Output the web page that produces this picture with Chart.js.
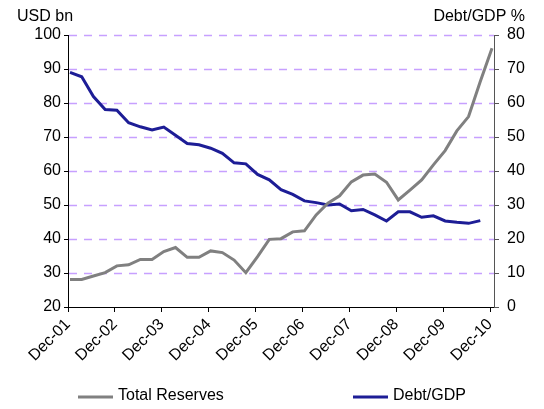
<!DOCTYPE html>
<html><head><meta charset="utf-8">
<script src="https://cdn.jsdelivr.net/npm/chart.js@4/dist/chart.umd.min.js"></script>
<style>html,body{margin:0;padding:0;background:#fff}#wrap{width:544px;height:409px}</style>
</head><body><div id="wrap"><canvas id="c" width="544" height="409"></canvas></div>
<script>
// Quarterly observations, Dec-01 .. Dec-10
const quarters = ["Dec-01","Mar-02","Jun-02","Sep-02","Dec-02","Mar-03","Jun-03","Sep-03","Dec-03",
  "Mar-04","Jun-04","Sep-04","Dec-04","Mar-05","Jun-05","Sep-05","Dec-05","Mar-06","Jun-06","Sep-06",
  "Dec-06","Mar-07","Jun-07","Sep-07","Dec-07","Mar-08","Jun-08","Sep-08","Dec-08","Mar-09","Jun-09",
  "Sep-09","Dec-09","Mar-10","Jun-10","Sep-10","Dec-10"];
const yearTicks = ["Dec-01","Dec-02","Dec-03","Dec-04","Dec-05","Dec-06","Dec-07","Dec-08","Dec-09","Dec-10"];
// USD bn (left axis)
const totalReserves = [28.1,28.1,29.1,30.1,32.1,32.4,34.0,34.0,36.3,37.5,34.6,34.6,36.5,36.0,33.8,30.1,
  34.8,39.9,40.1,42.1,42.4,47.1,50.5,52.7,56.8,58.8,59.1,56.7,51.5,54.4,57.4,61.8,66.0,71.8,76.0,86.3,96.1];
// Debt/GDP % (right axis), Dec-01 .. Sep-10
const debtToGDP = [69.0,67.7,61.9,58.1,57.9,54.2,53.0,52.1,52.9,50.5,48.1,47.7,46.7,45.2,42.4,42.1,
  39.0,37.4,34.5,33.1,31.2,30.7,30.0,30.3,28.3,28.7,27.1,25.3,28.0,28.0,26.4,26.8,25.3,24.9,24.6,25.4];
const seriesNames = ["Total Reserves","Debt/GDP"];
const axisTitles = ["USD bn","Debt/GDP %"];

const FONT = "'Liberation Sans', Arial, sans-serif";
const GRID = '#c7a0ff';
const toPts = arr => arr.map((v,i)=>({x:i+0.17, y:v}));

// dashed horizontal gridlines at the left axis' own tick values
const gridPlugin = {
  id:'dashGrid',
  beforeDatasetsDraw(chart){
    const {ctx, chartArea, scales} = chart;
    const ys = scales.y;
    ctx.save();
    ctx.strokeStyle = GRID;
    ctx.lineWidth = 1.5;
    ctx.setLineDash([8,7]);
    ys.ticks.forEach(t=>{
      if (t.value <= ys.min) return;
      const py = Math.round(ys.getPixelForValue(t.value)) + 0.5;
      ctx.beginPath(); ctx.moveTo(chartArea.left+1, py); ctx.lineTo(chartArea.right, py); ctx.stroke();
    });
    ctx.restore();
  }
};

const titlesLegendPlugin = {
  id:'titlesLegend',
  afterDraw(chart){
    const ctx = chart.ctx;
    ctx.save();
    ctx.font = '16px ' + FONT;
    ctx.fillStyle = '#000';
    ctx.textBaseline = 'alphabetic';
    ctx.textAlign = 'left';
    ctx.fillText(axisTitles[0], 17, 21);
    ctx.textAlign = 'right';
    ctx.fillText(axisTitles[1], 525, 21);
    const starts = [78, 353];
    chart.data.datasets.forEach((ds,i)=>{
      const x = starts[i], y = 397;
      ctx.strokeStyle = ds.borderColor;
      ctx.lineWidth = 3;
      ctx.beginPath(); ctx.moveTo(x, y); ctx.lineTo(x+35, y); ctx.stroke();
      ctx.fillStyle = '#000';
      ctx.textAlign = 'left';
      ctx.textBaseline = 'middle';
      ctx.fillText(ds.label, x+40, y-1);
    });
    ctx.restore();
  }
};

new Chart(document.getElementById('c'), {
  type:'line',
  data:{
    datasets:[
      {label:seriesNames[0], data:toPts(totalReserves), yAxisID:'y', borderColor:'#808080', backgroundColor:'#808080',
       borderWidth:3, pointRadius:0, tension:0},
      {label:seriesNames[1], data:toPts(debtToGDP), yAxisID:'y2', borderColor:'#1d1d96', backgroundColor:'#1d1d96',
       borderWidth:3, pointRadius:0, tension:0}
    ]
  },
  options:{
    responsive:false, animation:false,
    layout:{padding:{top:35, left:0, right:0, bottom:0}},
    plugins:{ tooltip:{enabled:false}, legend:{display:false} },
    scales:{
      x:{
        type:'linear', min:0, max:36.34,
        afterBuildTicks:(s)=>{ s.ticks = yearTicks.map((_,j)=>({value:j*4})); },
        afterFit:(s)=>{ s.height = 409 - 307; },
        ticks:{autoSkip:false, maxRotation:45, minRotation:45, font:{family:FONT, size:16}, color:'#000', padding:3,
          callback:(v,i)=>yearTicks[i]},
        grid:{drawOnChartArea:false, drawTicks:true, tickLength:5, tickColor:'#000'},
        border:{color:'#000', width:1}
      },
      y:{
        position:'left', min:20, max:100,
        afterFit:(s)=>{ s.width = 68; },
        ticks:{stepSize:10, font:{family:FONT, size:16}, color:'#000', padding:3},
        grid:{drawOnChartArea:false, tickLength:4, tickColor:'#000', drawTicks:true},
        border:{color:'#000', width:1}
      },
      y2:{
        position:'right', min:0, max:80,
        afterFit:(s)=>{ s.width = 50; },
        ticks:{stepSize:10, font:{family:FONT, size:16}, color:'#000', padding:8},
        grid:{drawOnChartArea:false, tickLength:5, tickColor:'#555'},
        border:{color:'#555', width:1}
      }
    }
  },
  plugins:[gridPlugin, titlesLegendPlugin]
});
</script>
</body></html>
